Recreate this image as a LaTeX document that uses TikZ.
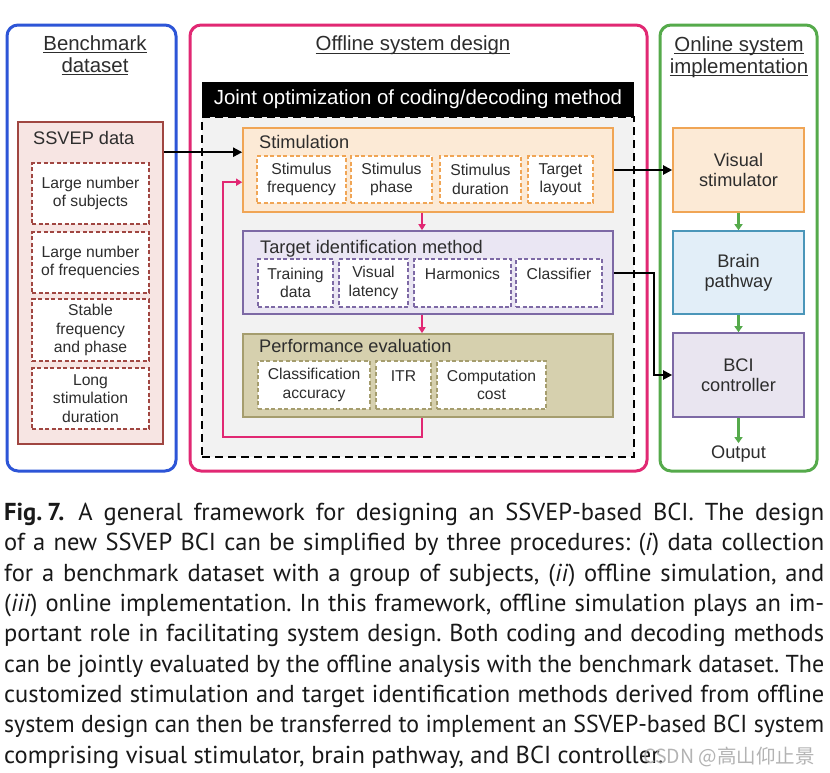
\documentclass[tikz,border=0pt]{standalone}
\usepackage{fontspec}
\usepackage{graphicx}
\setmainfont{Liberation Sans}
\newfontfamily\capfont{PT Sans}
\newfontfamily\cjkfont{Noto Sans CJK SC}
\usetikzlibrary{arrows.meta}
\definecolor{txt}{RGB}{45,45,45}
\definecolor{pblue}{RGB}{45,85,215}
\definecolor{ppink}{RGB}{225,40,115}
\definecolor{pgreen}{RGB}{85,170,75}
\definecolor{dsline}{RGB}{160,70,65}
\definecolor{dsfill}{RGB}{247,229,227}
\definecolor{stline}{RGB}{240,165,85}
\definecolor{stfill}{RGB}{252,234,214}
\definecolor{tiline}{RGB}{125,105,165}
\definecolor{tifill}{RGB}{234,230,243}
\definecolor{peline}{RGB}{165,157,110}
\definecolor{pefill}{RGB}{214,208,174}
\definecolor{brline}{RGB}{75,150,185}
\definecolor{brfill}{RGB}{226,238,248}
\definecolor{bcfill}{RGB}{233,229,240}
\definecolor{jobg}{RGB}{242,242,242}
\newcommand\ultext[1]{\setbox0\hbox{#1}\rlap{\rule[-2.6pt]{\wd0}{0.9pt}}\box0}
\newsavebox\caplinebox
\newcommand\capline[1]{\sbox\caplinebox{#1}\ifdim\wd\caplinebox>820pt\resizebox{820pt}{\height}{\usebox\caplinebox}\else\makebox[820pt][s]{#1}\fi}
\begin{document}
\begin{tikzpicture}[x=1pt,y=-1pt,
 panel/.style={draw, line width=3pt, rounded corners=11pt, inner sep=0pt},
 ttl/.style={font=\fontsize{20.4}{22}\selectfont, text=txt, align=center, inner sep=0pt},
 grpbox/.style={draw, line width=1.6pt, inner sep=0pt},
 gtitle/.style={font=\fontsize{18.2}{20}\selectfont, text=txt, anchor=base west, inner sep=0pt},
 subbox/.style={draw, dash pattern=on 4pt off 2.5pt, line width=1.6pt, fill=white, inner sep=0pt, align=center, text=txt, font=\fontsize{15.7}{18.5}\selectfont},
 onbox/.style={draw, line width=1.6pt, inner sep=0pt, align=center, text=txt, font=\fontsize{18.2}{20}\selectfont, minimum width=131pt, minimum height=84pt},
 blackarr/.style={line width=2pt, -{Triangle[length=9pt,width=9pt]}},
 pinkarr/.style={ppink, line width=2pt, -{Triangle[length=6pt,width=7pt]}},
 greenarr/.style={pgreen, line width=2.5pt, -{Triangle[length=6pt,width=8pt]}}]
\fill[white] (0,0) rectangle (830,772);
\useasboundingbox (0,0) rectangle (830,772);
% panels
\node[panel, draw=pblue, minimum width=169pt, minimum height=446pt] (bench) at (91.5,248) {};
\node[panel, draw=ppink, minimum width=457pt, minimum height=446pt] (offline) at (418.5,248) {};
\node[panel, draw=pgreen, minimum width=157pt, minimum height=446pt] (online) at (738.5,248) {};
\node[ttl] (benchttl) at (95,55) {\ultext{Benchmark}\\\ultext{dataset}};
\node[ttl] (offttl) at (413,45.7) {\ultext{Offline system design}};
\node[ttl] (onttl) at (739,57.5) {\ultext{Online system}\\\ultext{implementation}};
% joint optimization area
\node[draw, dash pattern=on 8pt off 5pt, line width=2pt, fill=jobg, minimum width=432pt, minimum height=340pt, inner sep=0pt] (jointarea) at (418,287) {};
\node[fill=black, minimum width=432pt, minimum height=35pt, inner sep=0pt, text=white, font=\fontsize{20.4}{22}\selectfont] (joint) at (418,99.5) {Joint optimization of coding/decoding method};
% SSVEP data
\node[grpbox, draw=dsline, fill=dsfill, minimum width=145pt, minimum height=322pt] (ssvep) at (90.5,283) {};
\node[gtitle] (ssvepttl) at (33,144) {SSVEP data};
\node[subbox, draw=dsline, minimum width=117pt, minimum height=61pt] (subj) at (90.5,193.5) {Large number\\of subjects};
\node[subbox, draw=dsline, minimum width=117pt, minimum height=61pt] (freqs) at (90.5,262.5) {Large number\\of frequencies};
\node[subbox, draw=dsline, minimum width=117pt, minimum height=62pt] (stable) at (90.5,330) {Stable\\frequency\\and phase};
\node[subbox, draw=dsline, minimum width=117pt, minimum height=61pt] (long) at (90.5,398.5) {Long\\stimulation\\duration};
% Stimulation
\node[grpbox, draw=stline, fill=stfill, minimum width=370pt, minimum height=84pt] (stim) at (428,170) {};
\node[gtitle] (stimttl) at (259,148) {Stimulation};
\node[subbox, draw=stline, minimum width=89pt, minimum height=47pt] (sfreq) at (301.5,179.5) {Stimulus\\frequency};
\node[subbox, draw=stline, minimum width=81pt, minimum height=47pt] (sphase) at (391.5,179.5) {Stimulus\\phase};
\node[subbox, draw=stline, minimum width=81pt, minimum height=47pt] (sdur) at (480.5,179.5) {Stimulus\\duration};
\node[subbox, draw=stline, minimum width=65pt, minimum height=47pt] (slay) at (560.5,179.5) {Target\\layout};
% Target identification
\node[grpbox, draw=tiline, fill=tifill, minimum width=370pt, minimum height=83pt] (tim) at (428,272.5) {};
\node[gtitle] (timttl) at (260,253) {Target identification method};
\node[subbox, draw=tiline, minimum width=75pt, minimum height=48pt] (train) at (295.5,283) {Training\\data};
\node[subbox, draw=tiline, minimum width=69pt, minimum height=48pt] (vlat) at (373.5,283) {Visual\\latency};
\node[subbox, draw=tiline, minimum width=97pt, minimum height=48pt] (harm) at (462.5,283) {Harmonics\\\phantom{data}};
\node[subbox, draw=tiline, minimum width=86pt, minimum height=48pt] (clf) at (559,283) {Classifier\\\phantom{data}};
% Performance evaluation
\node[grpbox, draw=peline, fill=pefill, minimum width=370pt, minimum height=83pt] (pe) at (428,375.5) {};
\node[gtitle] (pettl) at (259,352) {Performance evaluation};
\node[subbox, draw=peline, minimum width=112pt, minimum height=48pt] (acc) at (314,385) {Classification\\accuracy};
\node[subbox, draw=peline, minimum width=55pt, minimum height=48pt] (itr) at (403.5,385) {ITR\\\phantom{cost}};
\node[subbox, draw=peline, minimum width=109pt, minimum height=48pt] (comp) at (491.5,385) {Computation\\cost};
% Online
\node[onbox, draw=stline, fill=stfill] (vis) at (738.5,170) {Visual\\stimulator};
\node[onbox, draw=brline, fill=brfill, minimum height=83pt] (brain) at (738.5,272.5) {Brain\\pathway};
\node[onbox, draw=tiline, fill=bcfill] (bci) at (738.5,375) {BCI\\controller};
\node[font=\fontsize{18.2}{20}\selectfont, text=txt, anchor=base, inner sep=2pt] (output) at (738.5,458) {Output};
% connectors
\draw[pinkarr] ([xshift=-6pt]stim.south) -- ([xshift=-6pt]tim.north);
\draw[pinkarr] ([xshift=-6pt]tim.south) -- ([xshift=-6pt]pe.north);
\coordinate (fb) at (223,437);
\draw[pinkarr] ([xshift=-6pt]pe.south) |- (fb) |- ([yshift=-55pt]stim.north west);
\draw[blackarr] ([yshift=-31pt]ssvep.north east) -- ([yshift=-25pt]stim.north west);
\draw[blackarr] (stim.east) -- (vis.west);
\draw[blackarr] (tim.east) -- ++(40,0) |- (bci.west);
\draw[greenarr] (vis.south) -- (brain.north);
\draw[greenarr] (brain.south) -- (bci.north);
\draw[greenarr] (bci.south) -- (output.north);
% caption
\node[anchor=north west, inner sep=0pt, align=left, text=black!90, font=\capfont\frenchspacing\fontsize{24.5}{30.3}\selectfont] (caption) at (4,503) {%
\capline{\textbf{Fig.\hspace{5pt}7.}\hspace{14pt}A general framework for designing an SSVEP-based BCI. The design}\\
\capline{of a new SSVEP BCI can be simplified by three procedures: (\textit{i}) data collection}\\
\capline{for a benchmark dataset with a group of subjects, (\textit{ii}) offline simulation, and}\\
\capline{(\textit{iii}) online implementation. In this framework, offline simulation plays an im-}\\
\capline{portant role in facilitating system design. Both coding and decoding methods}\\
\capline{can be jointly evaluated by the offline analysis with the benchmark dataset. The}\\
\capline{customized stimulation and target identification methods derived from offline}\\
\capline{system design can then be transferred to implement an SSVEP-based BCI system}\\
comprising visual stimulator, brain pathway, and BCI controller.};
\node[anchor=base west, inner sep=0pt, text=gray!70, opacity=0.85, font=\cjkfont\fontsize{19.5}{20}\selectfont] (wm) at (643,763) {CSDN @高山仰止景};
\end{tikzpicture}
\end{document}
